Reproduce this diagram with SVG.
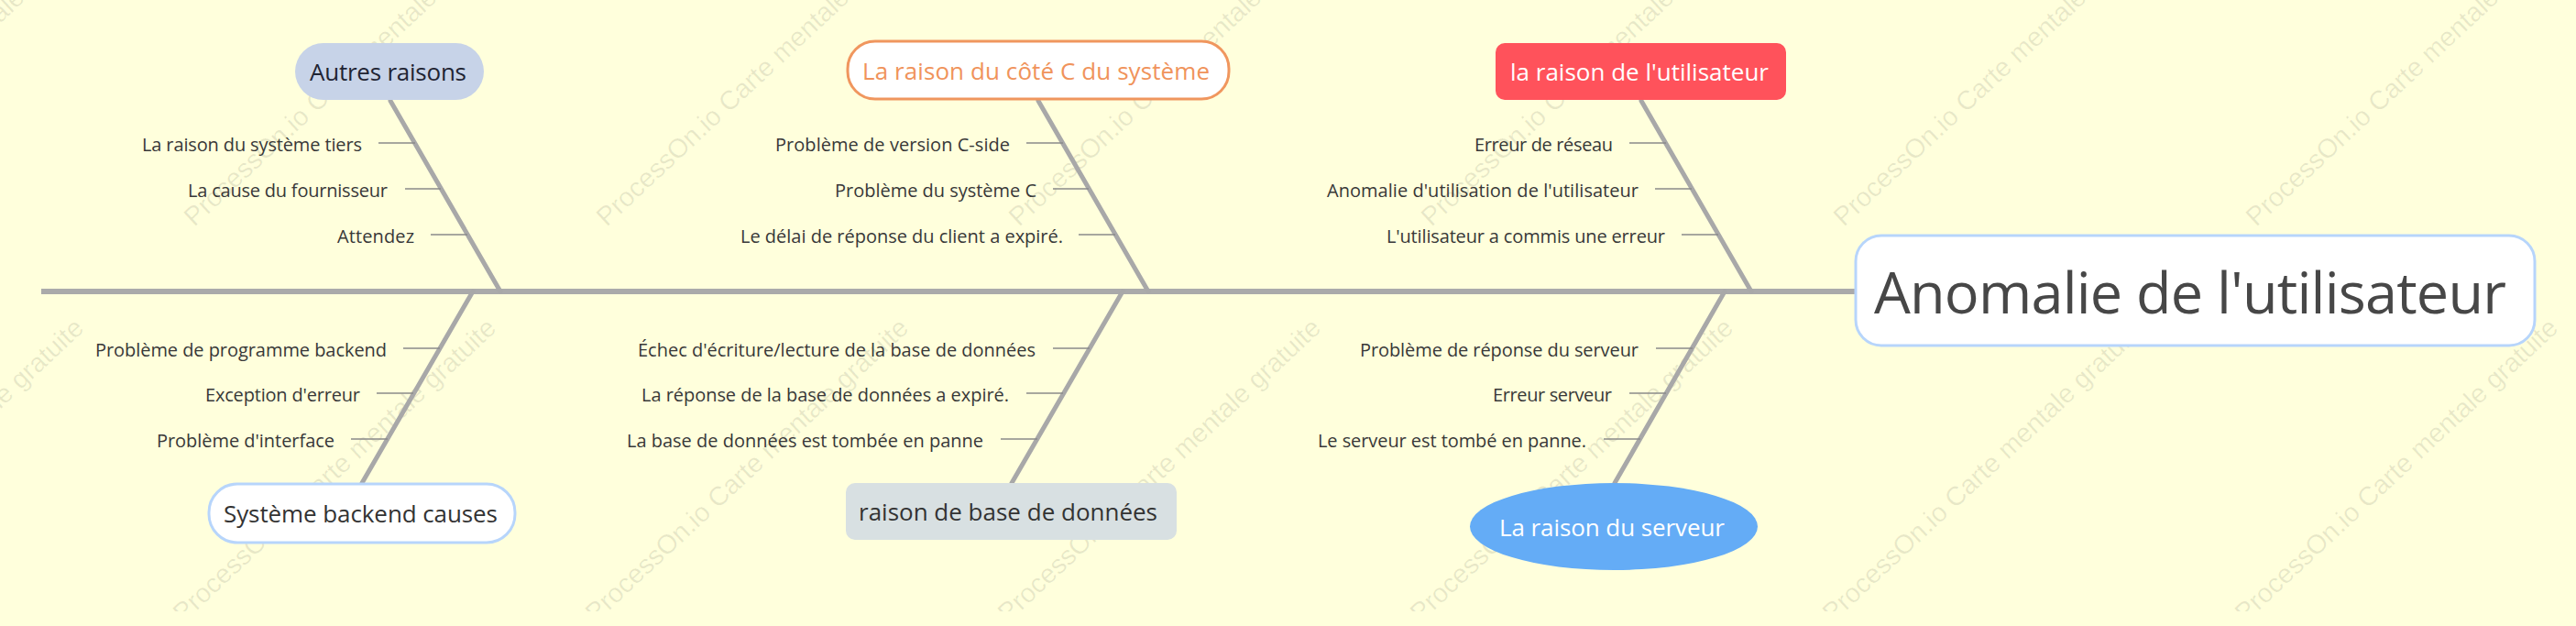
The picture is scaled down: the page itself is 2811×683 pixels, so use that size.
<svg xmlns="http://www.w3.org/2000/svg" width="2811" height="683" viewBox="0 0 2811 683">
<defs>
<style>
.wm{font-family:"Liberation Sans",Arial,sans-serif;font-size:29px;fill:#000;fill-opacity:0.09}
.sub{font-family:"Open Sans","Noto Sans","Liberation Sans",sans-serif;font-size:20px;fill:#383838;text-anchor:end}
.box{font-family:"Open Sans","Noto Sans","Liberation Sans",sans-serif;font-size:26px;text-anchor:middle}
.bone{stroke:#a8a8a8;stroke-width:5;stroke-linecap:round;fill:none}
.tick{stroke:#8a8a8a;stroke-width:1.5;fill:none}
</style>
<clipPath id="wmclip"><rect x="0" y="0" width="2811" height="667"/></clipPath>
</defs>
<rect x="0" y="0" width="2811" height="683" fill="#ffffdc"/>
<g id="watermarks" clip-path="url(#wmclip)">
<text class="wm" transform="translate(-238,248) rotate(-43)">ProcessOn.io Carte mentale gratuite</text>
<text class="wm" transform="translate(212,248) rotate(-43)">ProcessOn.io Carte mentale gratuite</text>
<text class="wm" transform="translate(662,248) rotate(-43)">ProcessOn.io Carte mentale gratuite</text>
<text class="wm" transform="translate(1112,248) rotate(-43)">ProcessOn.io Carte mentale gratuite</text>
<text class="wm" transform="translate(1562,248) rotate(-43)">ProcessOn.io Carte mentale gratuite</text>
<text class="wm" transform="translate(2012,248) rotate(-43)">ProcessOn.io Carte mentale gratuite</text>
<text class="wm" transform="translate(2462,248) rotate(-43)">ProcessOn.io Carte mentale gratuite</text>
<text class="wm" transform="translate(-250,680) rotate(-43)">ProcessOn.io Carte mentale gratuite</text>
<text class="wm" transform="translate(200,680) rotate(-43)">ProcessOn.io Carte mentale gratuite</text>
<text class="wm" transform="translate(650,680) rotate(-43)">ProcessOn.io Carte mentale gratuite</text>
<text class="wm" transform="translate(1100,680) rotate(-43)">ProcessOn.io Carte mentale gratuite</text>
<text class="wm" transform="translate(1550,680) rotate(-43)">ProcessOn.io Carte mentale gratuite</text>
<text class="wm" transform="translate(2000,680) rotate(-43)">ProcessOn.io Carte mentale gratuite</text>
<text class="wm" transform="translate(2450,680) rotate(-43)">ProcessOn.io Carte mentale gratuite</text>
</g>
<g id="connectors">
<line x1="45" y1="318" x2="2026" y2="318" stroke="#aaaaaa" stroke-width="6"/>
<line class="bone" x1="426" y1="110" x2="546" y2="318"/>
<line class="bone" x1="1133" y1="110" x2="1253" y2="318"/>
<line class="bone" x1="1791" y1="110" x2="1911" y2="318"/>
<line class="bone" x1="516" y1="318" x2="395" y2="527"/>
<line class="bone" x1="1225" y1="318" x2="1104" y2="527"/>
<line class="bone" x1="1882" y1="318" x2="1762" y2="527"/>
<line class="tick" x1="413" y1="156" x2="453" y2="156"/>
<line class="tick" x1="442" y1="206" x2="481" y2="206"/>
<line class="tick" x1="470" y1="256" x2="510" y2="256"/>
<line class="tick" x1="1120" y1="156" x2="1160" y2="156"/>
<line class="tick" x1="1149" y1="206" x2="1188" y2="206"/>
<line class="tick" x1="1177" y1="256" x2="1217" y2="256"/>
<line class="tick" x1="1778" y1="156" x2="1818" y2="156"/>
<line class="tick" x1="1806" y1="206" x2="1846" y2="206"/>
<line class="tick" x1="1835" y1="256" x2="1875" y2="256"/>
<line class="tick" x1="440" y1="380" x2="480" y2="380"/>
<line class="tick" x1="411" y1="429" x2="451" y2="429"/>
<line class="tick" x1="383" y1="479" x2="423" y2="479"/>
<line class="tick" x1="1149" y1="380" x2="1189" y2="380"/>
<line class="tick" x1="1120" y1="429" x2="1160" y2="429"/>
<line class="tick" x1="1092" y1="479" x2="1132" y2="479"/>
<line class="tick" x1="1807" y1="380" x2="1847" y2="380"/>
<line class="tick" x1="1778" y1="429" x2="1818" y2="429"/>
<line class="tick" x1="1750" y1="479" x2="1790" y2="479"/>
</g>
<g id="root">
<rect x="2025" y="257" width="741" height="120" rx="28" fill="#ffffff" stroke="#b7d5fb" stroke-width="3"/>
<text x="2390" y="342" font-family="Open Sans, Noto Sans, Liberation Sans, sans-serif" font-size="63" fill="#474747" text-anchor="middle" textLength="690">Anomalie de l'utilisateur</text>
</g>
<g id="autres-raisons">
<rect x="322" y="47" width="206" height="62" rx="31" fill="#c7d3e8"/>
<text class="box" x="423.5" y="88" fill="#1f2433" textLength="171">Autres raisons</text>
<text class="sub" x="395" y="165" textLength="240">La raison du système tiers</text>
<text class="sub" x="423" y="215" textLength="218">La cause du fournisseur</text>
<text class="sub" x="452" y="265" textLength="84">Attendez</text>
</g>
<g id="raison-systeme-c">
<rect x="925" y="45" width="416" height="63" rx="30" fill="#ffffff" stroke="#f0965e" stroke-width="3"/>
<text class="box" x="1130.5" y="87" fill="#f0935b" textLength="379">La raison du côté C du système</text>
<text class="sub" x="1102" y="165" textLength="256">Problème de version C-side</text>
<text class="sub" x="1131" y="215" textLength="220">Problème du système C</text>
<text class="sub" x="1160" y="265" textLength="352">Le délai de réponse du client a expiré.</text>
</g>
<g id="raison-utilisateur">
<rect x="1632" y="47" width="317" height="62" rx="10" fill="#ff525b"/>
<text class="box" x="1789" y="88" fill="#ffffff" textLength="282">la raison de l'utilisateur</text>
<text class="sub" x="1760" y="165" textLength="151">Erreur de réseau</text>
<text class="sub" x="1788" y="215" textLength="340">Anomalie d'utilisation de l'utilisateur</text>
<text class="sub" x="1817" y="265" textLength="304">L'utilisateur a commis une erreur</text>
</g>
<g id="systeme-backend">
<rect x="228" y="528" width="334" height="64" rx="31" fill="#ffffff" stroke="#b7d5fb" stroke-width="3"/>
<text class="box" x="393.5" y="570" fill="#333333" textLength="299">Système backend causes</text>
<text class="sub" x="422" y="389" textLength="318">Problème de programme backend</text>
<text class="sub" x="393" y="438" textLength="169">Exception d'erreur</text>
<text class="sub" x="365" y="488" textLength="194">Problème d'interface</text>
</g>
<g id="base-de-donnees">
<rect x="923" y="527" width="361" height="62" rx="10" fill="#d8e0e2"/>
<text class="box" x="1100" y="568" fill="#333333" textLength="326">raison de base de données</text>
<text class="sub" x="1130" y="389" textLength="434">Échec d'écriture/lecture de la base de données</text>
<text class="sub" x="1101" y="438" textLength="401">La réponse de la base de données a expiré.</text>
<text class="sub" x="1073" y="488" textLength="389">La base de données est tombée en panne</text>
</g>
<g id="raison-serveur">
<ellipse cx="1761" cy="574.5" rx="157" ry="47.5" fill="#64acf6"/>
<text class="box" x="1759" y="585" fill="#ffffff" textLength="246">La raison du serveur</text>
<text class="sub" x="1788" y="389" textLength="304">Problème de réponse du serveur</text>
<text class="sub" x="1759" y="438" textLength="130">Erreur serveur</text>
<text class="sub" x="1731" y="488" textLength="293">Le serveur est tombé en panne.</text>
</g>
</svg>
